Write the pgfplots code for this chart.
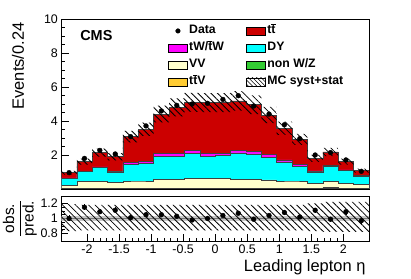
\documentclass[border=0pt]{standalone}
\usepackage{pgfplots}
\pgfplotsset{compat=1.18}
\usepackage{pgfplotstable}
\usetikzlibrary{patterns.meta}
\usepackage{fontspec}
\setmainfont{Liberation Sans}
\definecolor{ttred}{HTML}{CC0000}
\definecolor{twmag}{HTML}{FF00FF}
\definecolor{dycyan}{HTML}{00FFFF}
\definecolor{vvcream}{HTML}{FFFFCC}
\definecolor{nwzgreen}{HTML}{33CC33}
\definecolor{ttvorange}{HTML}{FFCC33}
\newcommand{\tb}{$\overline{\mbox{t}}$}

\pgfplotstableread{
xl    ttv  nwz  vv   dy   tw   tt
-2.40 0.02 0.04 0.22 0.63 0.66 0.96
-2.16 0.02 0.04 0.43 1.02 1.05 1.61
-1.92 0.02 0.04 0.45 1.27 1.30 2.14
-1.68 0.02 0.04 0.37 1.00 1.03 1.90
-1.44 0.02 0.04 0.47 1.45 1.57 3.08
-1.20 0.02 0.04 0.47 1.51 1.63 3.51
-0.96 0.02 0.05 0.57 1.94 2.10 4.41
-0.72 0.02 0.05 0.57 1.94 2.10 4.80
-0.48 0.02 0.05 0.63 2.10 2.27 5.10
-0.24 0.02 0.05 0.63 1.94 2.10 5.08
0.00  0.02 0.05 0.61 1.96 2.10 5.08
0.24  0.02 0.05 0.57 2.12 2.27 5.18
0.48  0.02 0.05 0.57 2.06 2.20 4.96
0.72  0.02 0.05 0.53 1.86 2.04 4.35
0.96  0.02 0.05 0.47 1.59 1.71 3.57
1.20  0.02 0.04 0.47 1.31 1.43 2.92
1.44  0.02 0.04 0.35 1.00 1.06 1.80
1.68  0.02 0.10 0.43 1.35 1.40 2.18
1.92  0.02 0.04 0.35 1.08 1.13 1.61
2.16  0.02 0.04 0.29 0.76 0.80 1.08
2.40  0.02 0.04 0.29 0.76 0.80 1.08
}\mainstack

\pgfplotstableread{
xc    data ratio rerr
-2.28 0.96 1.00 0.040
-2.04 1.80 1.15 0.040
-1.80 2.27 1.09 0.035
-1.56 2.06 1.11 0.040
-1.32 3.08 1.01 0.030
-1.08 3.71 1.05 0.030
-0.84 4.59 1.05 0.025
-0.60 4.92 1.03 0.025
-0.36 5.00 0.98 0.025
-0.12 5.04 1.00 0.025
0.12  5.27 1.04 0.025
0.36  5.49 1.07 0.025
0.60  4.88 0.99 0.025
0.84  4.41 1.04 0.025
1.08  3.78 1.08 0.030
1.32  2.96 1.02 0.030
1.56  2.00 1.11 0.035
1.80  2.14 0.99 0.035
2.04  1.71 1.09 0.040
2.28  1.04 0.97 0.040
}\datatab

\pgfplotsset{
  cmsaxis/.style={
    scale only axis, anchor=south west, width=307.6bp,
    xmin=-2.4, xmax=2.4,
    tick align=inside, xtick pos=bottom, ytick pos=left,
    axis line style={line width=0.6bp},
    every tick/.style={black, line width=0.5bp},
    tick label style={font=\fontsize{12.5}{14}\selectfont},
    xtick={-2,-1.5,-1,-0.5,0,0.5,1,1.5,2},
    minor x tick num=4,
  },
  stk/.style={const plot, draw=black!75, line width=0.5bp, forget plot},
  hatch/.style={pattern={Lines[angle=-45,distance=4.6bp,line width=0.85bp]}, draw=none, forget plot},
  boxleg/.style={legend image code/.code={\draw[##1,line width=0.5bp] (0bp,-4bp) rectangle (19bp,4bp);}},
}

\begin{document}
\begin{tikzpicture}
\path[use as bounding box] (0,0) rectangle (411bp,279bp);
\begin{axis}[cmsaxis,
  at={(61.4bp,90bp)}, height=170bp,
  ymin=0, ymax=10,
  xticklabels={},
  ytick={2,4,6,8,10}, yticklabels={2,4,6,8,10},
  minor y tick num=3,
  major tick length=8bp, minor tick length=4bp,
  every axis y label/.style={at={(axis description cs:-0.141,1)}, rotate=90, anchor=east,
     font=\fontsize{16.5}{18}\selectfont},
  ylabel={Events/0.24},
  legend columns=2,
  legend cell align=left,
  legend style={draw=none, fill=none, at={(axis description cs:0.3466,0.975)}, anchor=north west,
    font=\bfseries\fontsize{12.3}{14}\selectfont, inner sep=0pt, row sep=2bp,
    nodes={inner sep=1.5bp, text height=9bp, text depth=3bp},
    /tikz/every even column/.append style={column sep=21bp}},
]
\addplot[stk, fill=ttred] table[x=xl,y=tt] {\mainstack} \closedcycle;
\addplot[stk, fill=twmag] table[x=xl,y=tw] {\mainstack} \closedcycle;
\addplot[stk, fill=dycyan] table[x=xl,y=dy] {\mainstack} \closedcycle;
\addplot[stk, fill=vvcream] table[x=xl,y=vv] {\mainstack} \closedcycle;
\addplot[stk, fill=nwzgreen] table[x=xl,y=nwz] {\mainstack} \closedcycle;
\addplot[stk, fill=ttvorange] table[x=xl,y=ttv] {\mainstack} \closedcycle;
% MC syst+stat band: upper edge left to right, lower edge right to left
\addplot[hatch] coordinates {
(-2.4,1.07)(-2.16,1.07)(-2.16,1.79)(-1.92,1.79)(-1.92,2.38)(-1.68,2.38)(-1.68,2.11)(-1.44,2.11)
(-1.44,3.42)(-1.2,3.42)(-1.2,3.90)(-0.96,3.90)(-0.96,4.90)(-0.72,4.90)(-0.72,5.33)(-0.48,5.33)
(-0.48,5.66)(-0.24,5.66)(-0.24,5.64)(0,5.64)(0.24,5.64)(0.24,5.75)(0.48,5.75)(0.48,5.51)
(0.72,5.51)(0.72,4.83)(0.96,4.83)(0.96,3.96)(1.2,3.96)(1.2,3.24)(1.44,3.24)(1.44,2.00)
(1.68,2.00)(1.68,2.42)(1.92,2.42)(1.92,1.79)(2.16,1.79)(2.16,1.20)(2.4,1.20)
(2.4,0.96)(2.16,0.96)(2.16,1.43)(1.92,1.43)(1.92,1.94)(1.68,1.94)(1.68,1.60)(1.44,1.60)
(1.44,2.60)(1.2,2.60)(1.2,3.18)(0.96,3.18)(0.96,3.87)(0.72,3.87)(0.72,4.41)(0.48,4.41)
(0.48,4.61)(0.24,4.61)(0.24,4.52)(-0.24,4.52)(-0.24,4.54)(-0.48,4.54)(-0.48,4.27)(-0.72,4.27)
(-0.72,3.92)(-0.96,3.92)(-0.96,3.12)(-1.2,3.12)(-1.2,2.74)(-1.44,2.74)(-1.44,1.69)(-1.68,1.69)
(-1.68,1.90)(-1.92,1.90)(-1.92,1.43)(-2.16,1.43)(-2.16,0.85)(-2.4,0.85)
};
\addplot[only marks, mark=*, mark size=2.4bp, black, forget plot] table[x=xc,y=data] {\datatab};

\addlegendimage{legend image code/.code={\fill (9.5bp,0bp) circle (2.3bp);}}
\addlegendentry{Data}
\addlegendimage{boxleg, fill=ttred}
\addlegendentry{t\tb}
\addlegendimage{boxleg, fill=twmag}
\addlegendentry{tW/\tb W}
\addlegendimage{boxleg, fill=dycyan}
\addlegendentry{DY}
\addlegendimage{boxleg, fill=vvcream}
\addlegendentry{VV}
\addlegendimage{boxleg, fill=nwzgreen}
\addlegendentry{non W/Z}
\addlegendimage{boxleg, fill=ttvorange}
\addlegendentry{t\tb V}
\addlegendimage{boxleg, pattern={Lines[angle=-45,distance=3bp,line width=0.6bp]}}
\addlegendentry{MC syst+stat}

\node[anchor=west, font=\bfseries\fontsize{14.5}{16}\selectfont] at (axis description cs:0.05,0.9) {CMS};
\node[anchor=south east, inner sep=0pt, font=\fontsize{12}{14}\selectfont] at (axis description cs:1,1.02) {5.0 fb\textsuperscript{-1} (7 TeV)};
\node[anchor=south west, inner sep=0pt, font=\fontsize{12.5}{14}\selectfont] at (axis description cs:0.0,1.025) {×10\textsuperscript{3}};
\end{axis}

\begin{axis}[cmsaxis,
  at={(61.4bp,38bp)}, height=45bp,
  ymin=0.7, ymax=1.3,
  ytick={0.8,1,1.2}, yticklabels={0.8,1,1.2},
  minor y tick num=3,
  xticklabels={-2,-1.5,-1,-0.5,0,0.5,1,1.5,2},
  major tick length=7bp, minor tick length=3.5bp,
  every axis x label/.style={at={(axis description cs:1,0)}, anchor=north east, yshift=-15bp,
     font=\fontsize{16.5}{18}\selectfont},
  xlabel={Leading lepton η},
  every axis y label/.style={at={(axis description cs:-0.135,0.5)}, rotate=90, anchor=center,
     font=\fontsize{15.5}{17}\selectfont},
  ylabel={$\displaystyle\frac{\mbox{obs.}}{\mbox{pred.}}$},
]
\addplot[fill=black!22, draw=none, forget plot] coordinates {(-2.4,1.035)(2.4,1.035)(2.4,0.965)(-2.4,0.965)};
\addplot[black!55, line width=1bp, forget plot] coordinates {(-2.4,1) (2.4,1)};
\addplot[hatch] coordinates {
(-2.4,1.19)(-2.16,1.19)(-2.16,1.18)(1.44,1.18)(1.44,1.20)(1.68,1.20)(1.68,1.22)(2.4,1.22)
(2.4,0.82)(1.68,0.82)(1.68,0.83)(1.44,0.83)(1.44,0.84)(-2.16,0.84)(-2.16,0.83)(-2.4,0.83)
};
\addplot[only marks, mark=*, mark size=2.4bp, black,
  error bars/.cd, y dir=both, y explicit, error bar style={line width=0.6bp}, error mark=none]
  table[x=xc,y=ratio,y error=rerr] {\datatab};
\end{axis}
\end{tikzpicture}
\end{document}
